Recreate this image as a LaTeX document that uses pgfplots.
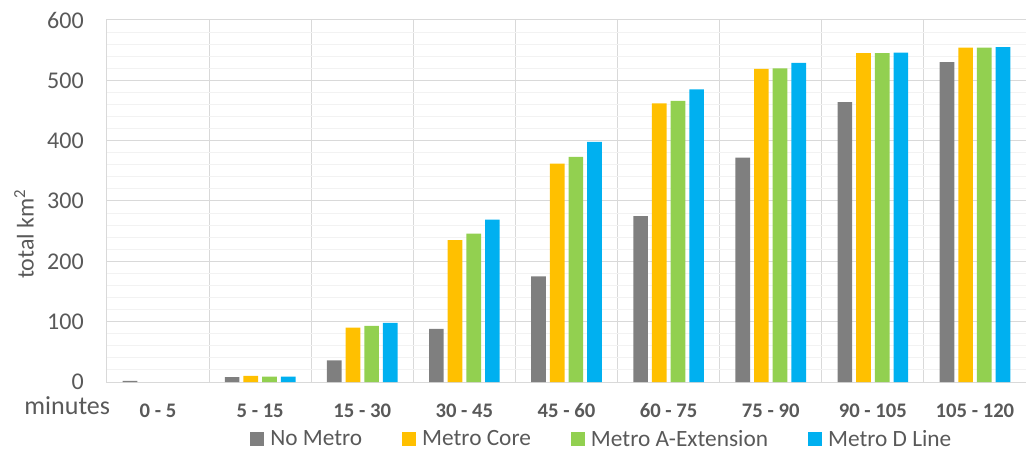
\documentclass[border=0pt]{standalone}
\usepackage{fontspec}
\setmainfont{Carlito}
\usepackage{pgfplots}
\pgfplotsset{compat=1.18}
\definecolor{cgray}{HTML}{7F7F7F}
\definecolor{cyellow}{HTML}{FFC000}
\definecolor{cgreen}{HTML}{92D050}
\definecolor{cblue}{HTML}{00B0F0}
\definecolor{gridmajor}{HTML}{D9D9D9}
\definecolor{gridminor}{HTML}{F2F2F2}
\definecolor{textgray}{HTML}{595959}
\begin{document}
\begin{tikzpicture}
\begin{axis}[
  scale only axis, width=689.25pt, height=271.5pt,
  clip=false,
  ybar=3pt, bar width=11pt,
  xmin=-0.5, xmax=8.5, ymin=0, ymax=600,
  xtick={0,1,2,3,4,5,6,7,8},
  xticklabels={0 - 5, 5 - 15, 15 - 30, 30 - 45, 45 - 60, 60 - 75, 75 - 90, 90 - 105, 105 - 120},
  ytick={0,100,200,300,400,500,600},
  minor ytick={20,40,60,80,120,140,160,180,220,240,260,280,320,340,360,380,420,440,460,480,520,540,560,580},
  minor xtick={-0.5,0.5,1.5,2.5,3.5,4.5,5.5,6.5,7.5,8.5},
  ymajorgrids, yminorgrids, xminorgrids,
  major grid style={color=gridmajor, line width=0.75pt},
  minor y grid style={color=gridminor, line width=0.75pt},
  minor x grid style={color=gridmajor, line width=0.75pt},
  axis line style={color=gridmajor, line width=0.75pt},
  major tick length=0pt, minor tick length=0pt,
  tick style={draw=none},
  /pgf/number format/assume math mode=true,
  yticklabel style={font=\fontsize{18}{22}\selectfont, text=textgray, anchor=east, inner sep=0pt, xshift=-17.25pt},
  xticklabel style={font=\bfseries\fontsize{15.5}{18}\selectfont, text=textgray, anchor=base, inner sep=0pt, yshift=-26.25pt},
  legend columns=4,
  legend image code/.code={\fill[#1] (0pt,-5.25pt) rectangle (10.5pt,5.25pt);},
  legend style={at={(axis description cs:0.1556,-0.1575)}, anchor=west, draw=none, fill=none,
    font=\fontsize{17.5}{21}\selectfont, text=textgray, inner sep=0pt,
    nodes={inner sep=0.5pt},
    /tikz/every odd column/.style={column sep=4pt},
    /tikz/every even column/.style={column sep=29.5pt}},
]
\addplot[fill=cgray, draw=none] coordinates {(0,2) (1,8) (2,36) (3,88) (4,175) (5,275) (6,372) (7,464) (8,530)};
\addplot[fill=cyellow, draw=none] coordinates {(1,10) (2,90) (3,235) (4,362) (5,462) (6,519) (7,545) (8,554)};
\addplot[fill=cgreen, draw=none] coordinates {(1,9) (2,93) (3,246) (4,373) (5,466) (6,520) (7,545) (8,554)};
\addplot[fill=cblue, draw=none] coordinates {(1,9) (2,98) (3,269) (4,398) (5,485) (6,529) (7,546) (8,555)};
\legend{No Metro, Metro Core, Metro A-Extension, Metro D Line}
\coordinate (SW) at (rel axis cs:0,0);
\coordinate (NE) at (rel axis cs:1,1);
\node[anchor=base east, font=\fontsize{19.5}{23}\selectfont, text=textgray, inner sep=0pt] at ([shift={(2.5pt,-24pt)}]rel axis cs:0,0) {minutes};
\node[rotate=90, anchor=center, font=\fontsize{18}{22}\selectfont, text=textgray, inner sep=0pt] at ([shift={(-62.25pt,111pt)}]rel axis cs:0,0) {total km\textsuperscript{2}};
\end{axis}
\pgfresetboundingbox
\path ([shift={(-80.25pt,-50.25pt)}]SW) rectangle ([shift={(0pt,15pt)}]NE);
\end{tikzpicture}
\end{document}
